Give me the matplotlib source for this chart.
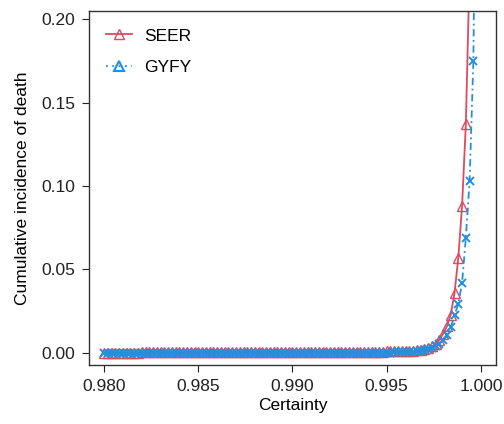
import matplotlib
matplotlib.use("Agg")
import matplotlib.pyplot as plt
from matplotlib.lines import Line2D

plt.rcParams['font.family'] = ['Liberation Sans', 'DejaVu Sans']

# certainty thresholds (0.980 .. 1.000, step 0.0002)
certainty = [
    0.9800, 0.9802, 0.9804, 0.9806, 0.9808, 0.9810, 0.9812, 0.9814, 0.9816, 0.9818,
    0.9820, 0.9822, 0.9824, 0.9826, 0.9828, 0.9830, 0.9832, 0.9834, 0.9836, 0.9838,
    0.9840, 0.9842, 0.9844, 0.9846, 0.9848, 0.9850, 0.9852, 0.9854, 0.9856, 0.9858,
    0.9860, 0.9862, 0.9864, 0.9866, 0.9868, 0.9870, 0.9872, 0.9874, 0.9876, 0.9878,
    0.9880, 0.9882, 0.9884, 0.9886, 0.9888, 0.9890, 0.9892, 0.9894, 0.9896, 0.9898,
    0.9900, 0.9902, 0.9904, 0.9906, 0.9908, 0.9910, 0.9912, 0.9914, 0.9916, 0.9918,
    0.9920, 0.9922, 0.9924, 0.9926, 0.9928, 0.9930, 0.9932, 0.9934, 0.9936, 0.9938,
    0.9940, 0.9942, 0.9944, 0.9946, 0.9948, 0.9950, 0.9952, 0.9954, 0.9956, 0.9958,
    0.9960, 0.9962, 0.9964, 0.9966, 0.9968, 0.9970, 0.9972, 0.9974, 0.9976, 0.9978,
    0.9980, 0.9982, 0.9984, 0.9986, 0.9988, 0.9990, 0.9992, 0.9994, 0.9996, 0.9998,
    1.0000,
]

# SEER cumulative incidence of death
seer = [
    0.0000, 0.0002, 0.0002, 0.0002, 0.0002, 0.0002, 0.0002, 0.0002, 0.0002, 0.0002,
    0.0008, 0.0008, 0.0008, 0.0008, 0.0008, 0.0008, 0.0008, 0.0008, 0.0008, 0.0008,
    0.0008, 0.0008, 0.0008, 0.0008, 0.0008, 0.0008, 0.0008, 0.0008, 0.0008, 0.0008,
    0.0008, 0.0008, 0.0008, 0.0008, 0.0008, 0.0008, 0.0008, 0.0008, 0.0008, 0.0008,
    0.0008, 0.0008, 0.0008, 0.0008, 0.0008, 0.0008, 0.0008, 0.0008, 0.0008, 0.0008,
    0.0008, 0.0008, 0.0008, 0.0008, 0.0008, 0.0008, 0.0008, 0.0008, 0.0008, 0.0008,
    0.0008, 0.0008, 0.0008, 0.0008, 0.0008, 0.0008, 0.0008, 0.0008, 0.0008, 0.0008,
    0.0008, 0.0008, 0.0008, 0.0008, 0.0008, 0.0009, 0.0009, 0.0009, 0.0010, 0.0010,
    0.0011, 0.0012, 0.0013, 0.0015, 0.0018, 0.0023, 0.0030, 0.0040, 0.0055, 0.0080,
    0.0115, 0.0160, 0.0230, 0.0360, 0.0570, 0.0880, 0.1370, 0.2300, 0.4500, 0.8000,
    1.0000,
]

# GYFY cumulative incidence of death
gyfy = [
    0.0000, 0.0000, 0.0000, 0.0000, 0.0000, 0.0000, 0.0000, 0.0000, 0.0000, 0.0000,
    0.0000, 0.0000, 0.0000, 0.0000, 0.0000, 0.0000, 0.0000, 0.0000, 0.0000, 0.0000,
    0.0000, 0.0000, 0.0000, 0.0000, 0.0000, 0.0000, 0.0000, 0.0000, 0.0000, 0.0000,
    0.0000, 0.0000, 0.0000, 0.0000, 0.0000, 0.0000, 0.0000, 0.0000, 0.0000, 0.0000,
    0.0000, 0.0000, 0.0000, 0.0000, 0.0000, 0.0000, 0.0000, 0.0000, 0.0000, 0.0000,
    0.0000, 0.0000, 0.0000, 0.0000, 0.0000, 0.0000, 0.0000, 0.0000, 0.0000, 0.0000,
    0.0000, 0.0000, 0.0000, 0.0000, 0.0000, 0.0000, 0.0000, 0.0000, 0.0000, 0.0000,
    0.0001, 0.0001, 0.0001, 0.0001, 0.0002, 0.0002, 0.0002, 0.0003, 0.0003, 0.0004,
    0.0005, 0.0006, 0.0008, 0.0010, 0.0013, 0.0017, 0.0022, 0.0030, 0.0040, 0.0055,
    0.0075, 0.0105, 0.0155, 0.0225, 0.0295, 0.0420, 0.0690, 0.1030, 0.1750, 0.4000,
    0.8000,
]

seer_col = '#DE4A5E'
gyfy_col = '#2290E0'

fig = plt.figure(figsize=(5.04, 4.24), dpi=100)
ax = fig.add_axes([0.1766, 0.1392, 0.8075, 0.8348])

ax.plot(certainty, seer, color=seer_col, lw=1.3, ls='-',
        marker='^', markersize=7, markerfacecolor='none', markeredgewidth=1.0)
ax.plot(certainty, gyfy, color=gyfy_col, lw=1.3, ls=(0, (4, 2, 1, 2)),
        marker='x', markersize=6, markeredgewidth=1.4)

ax.set_xlim(0.9792, 1.0008)
ax.set_ylim(-0.0072, 0.2048)
ax.set_xticks([0.980, 0.985, 0.990, 0.995, 1.000])
ax.set_xticklabels(['0.980', '0.985', '0.990', '0.995', '1.000'])
ax.set_yticks([0.00, 0.05, 0.10, 0.15, 0.20])
ax.set_yticklabels(['0.00', '0.05', '0.10', '0.15', '0.20'])
ax.tick_params(direction='out', length=5, width=0.8, pad=5, labelsize=12.5, colors='#222222')
for s in ax.spines.values():
    s.set_color('#333333')
    s.set_linewidth(1.0)

ax.set_xlabel('Certainty', fontsize=12.5, labelpad=3)
ax.set_ylabel('Cumulative incidence of death', fontsize=12.5, labelpad=8)

handles = [
    Line2D([], [], color=seer_col, lw=1.3, ls='-', marker='^', markersize=7,
           markerfacecolor='none', markeredgewidth=1.0),
    Line2D([], [], color=gyfy_col, lw=1.3, ls=(0, (1, 2.5)), marker='^', markersize=7,
           markerfacecolor='none', markeredgewidth=1.5),
]
ax.legend(handles, ['SEER', 'GYFY'], loc='upper left', frameon=False, fontsize=12.5,
          handlelength=1.45, handletextpad=0.75, borderaxespad=0.6, labelspacing=0.95)

fig.savefig('out.png', dpi=100)
